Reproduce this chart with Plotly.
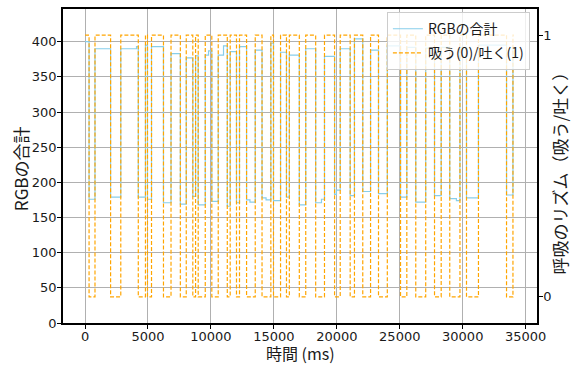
import plotly.graph_objects as go

# Segment start times (ms) of the step signal; last entry is the end of the data
time_ms = [0, 320, 790, 2030, 2840, 4090, 4230, 4800, 4960, 5280, 6230, 6830, 7570, 8040,
           8560, 8780, 8990, 9550, 9810, 10070, 10580, 11000, 11300, 11530, 12030, 12270,
           12830, 13100, 13520, 14060, 14380, 14760, 14970, 15530, 16000, 16230, 17020,
           17530, 18320, 18780, 19020, 19820, 19970, 20270, 21060, 21400, 22060, 22680,
           23310, 24010, 25060, 25560, 26270, 27060, 27760, 28290, 28970, 29500, 29780,
           30300, 31250, 33480, 33990, 34070]

rgb_sum = [400, 176, 390, 179, 390, 393, 179, 395, 176, 393, 171, 383, 169, 377,
           180, 380, 168, 381, 387, 173, 381, 394, 166, 386, 171, 393,
           175, 172, 388, 178, 175, 398, 174, 385, 179, 381, 168,
           390, 171, 176, 379, 183, 189, 390, 181, 404, 187, 388,
           184, 394, 179, 392, 172, 391, 181, 392, 177, 174, 392,
           178, 395, 182, 390, 390]

breath = [1, 0, 1, 0, 1, 1, 0, 1, 0, 1, 0, 1, 0, 1,
          0, 1, 0, 1, 1, 0, 1, 1, 0, 1, 0, 1,
          0, 0, 1, 0, 0, 1, 0, 1, 0, 1, 0,
          1, 0, 0, 1, 0, 0, 1, 0, 1, 0, 1,
          0, 1, 0, 1, 0, 1, 0, 1, 0, 0, 1,
          0, 1, 0, 1, 1]

x_ticks = [0, 5000, 10000, 15000, 20000, 25000, 30000, 35000]
y_ticks = [0, 50, 100, 150, 200, 250, 300, 350, 400]
y2_ticks = [0, 1]

CJK = "Noto Sans CJK JP, Noto Sans, DejaVu Sans, sans-serif"
TICKFONT = dict(family="DejaVu Sans, sans-serif", size=13, color="#1a1a1a")

fig = go.Figure()
fig.add_trace(go.Scatter(
    x=time_ms, y=rgb_sum, mode="lines", line_shape="hv",
    line=dict(color="#87CEEB", width=1.2), name="RGBの合計", yaxis="y",
    legendgroup="a"))
fig.add_trace(go.Scatter(
    x=time_ms, y=breath, mode="lines", line_shape="hv",
    line=dict(color="#FFA500", width=1.2, dash="4px,2px"),
    name="吸う(0)/吐く(1)", yaxis="y2", legendgroup="b"))

axis_common = dict(showline=True, linecolor="black", linewidth=1.5,
                   ticks="outside", ticklen=4, tickcolor="black", tickwidth=1,
                   tickfont=TICKFONT, zeroline=False, automargin=False)

fig.update_layout(
    width=571, height=365,
    margin=dict(l=63, r=34, t=9, b=42),
    paper_bgcolor="white", plot_bgcolor="white",
    font=dict(family=CJK, color="#1a1a1a"),
    xaxis=dict(range=[-1750, 35900], tickvals=x_ticks,
               ticktext=[str(v) for v in x_ticks], mirror=True,
               showgrid=True, gridcolor="#b0b0b0", gridwidth=1,
               ticklabelstandoff=-3,
               **axis_common),
    yaxis=dict(range=[0, 446.5], tickvals=y_ticks,
               ticktext=[str(v) for v in y_ticks],
               showgrid=True, gridcolor="#b0b0b0", gridwidth=1,
               ticklabelstandoff=-2,
               **axis_common),
    yaxis2=dict(range=[-0.1, 1.1], tickvals=y2_ticks, ticktext=["0", "1"],
                overlaying="y", side="right", showgrid=False,
                ticklabelstandoff=-2,
                **axis_common),
    legend=dict(x=0.985, y=0.99, xanchor="right", yanchor="top",
                bgcolor="rgba(255,255,255,0.8)", bordercolor="#cccccc", borderwidth=1,
                font=dict(family=CJK, size=14, color="#1a1a1a"),
                traceorder="grouped", tracegroupgap=3),
    showlegend=True,
    annotations=[
        dict(text="時間 (ms)", xref="paper", yref="paper", x=0.501, y=-0.097,
             xanchor="center", yanchor="middle", showarrow=False,
             font=dict(family=CJK, size=16, color="#1a1a1a")),
        dict(text="RGBの合計", xref="paper", yref="paper", x=-0.0907, y=0.49,
             xanchor="center", yanchor="middle", showarrow=False, textangle=-90,
             font=dict(family=CJK, size=17, color="#1a1a1a")),
        dict(text="呼吸のリズム（吸う/吐く）", xref="paper", yref="paper", x=1.047, y=0.49,
             xanchor="center", yanchor="middle", showarrow=False, textangle=-90,
             font=dict(family=CJK, size=17, color="#1a1a1a")),
    ],
)

fig.write_html("out.html", config={"displayModeBar": False},
               post_script="document.body.style.margin='0';document.body.style.overflow='hidden';")
